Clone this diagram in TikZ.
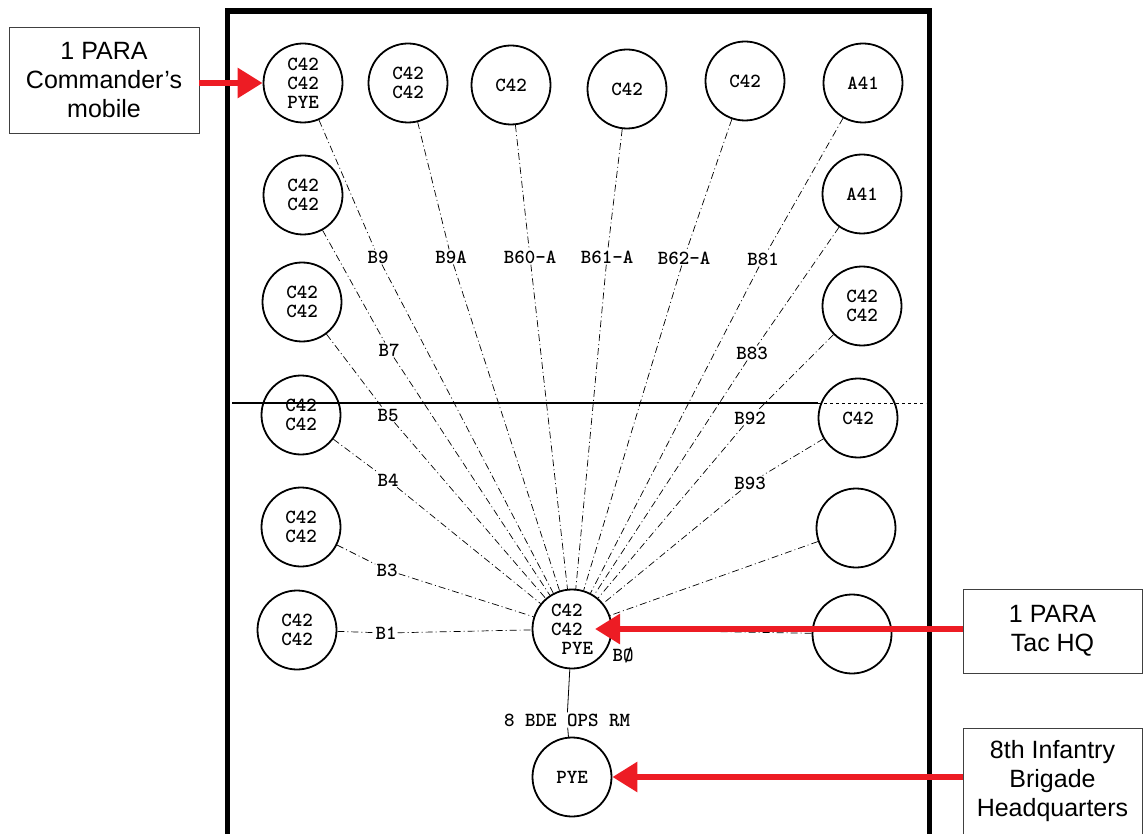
\documentclass[tikz,border=0pt]{standalone}
\usepackage{fontspec}
\setmainfont{Liberation Sans}
\usetikzlibrary{arrows.meta}
\definecolor{callred}{HTML}{ED1C24}

\begin{document}
\begin{tikzpicture}[x=1pt,y=-1pt,
  stn/.style={circle,draw,line width=1.8pt,minimum size=79pt,inner sep=0pt,align=left,
    font=\ttfamily\bfseries\fontsize{20}{19}\selectfont},
  callsign/.style={inner sep=1pt,font=\ttfamily\bfseries\fontsize{20}{19}\selectfont},
  net/.style={line width=0.7pt,dash pattern=on 7pt off 3pt on 1pt off 3pt},
  note/.style={draw=black!75,line width=0.8pt,align=center,inner sep=0pt,
    font=\fontsize{25}{29}\selectfont},
  redarrow/.style={callred,line width=6pt,-{Triangle[length=25pt,width=29pt]}}]
  \useasboundingbox (0,0) rectangle (1143,834);
  % 外框
  \draw[line width=5.5pt] (227.5,850) -- (227.5,11) -- (929.5,11) -- (929.5,850);
  % 上排电台
  \node[stn] (c11) at (303,83) {C42\\C42\\PYE};
  \node[stn] (c12) at (408,83) {C42\\C42};
  \node[stn] (c13) at (511,85) {C42};
  \node[stn] (c14) at (627,89) {C42};
  \node[stn] (c15) at (745,81) {C42};
  \node[stn] (c16) at (863,83) {A41};
  % 左列电台
  \node[stn] (c21) at (303,195) {C42\\C42};
  \node[stn] (c31) at (302,302) {C42\\C42};
  \node[stn] (c41) at (301,415) {C42\\C42};
  \node[stn] (c51) at (301,527) {C42\\C42};
  \node[stn] (c61) at (297,630) {C42\\C42};
  % 右列电台
  \node[stn] (c26) at (862,194) {A41};
  \node[stn] (c36) at (862,306) {C42\\C42};
  \node[stn] (c46) at (858,418) {C42};
  \node[stn] (c56) at (856,528) {};
  \node[stn] (c66) at (852,634) {};
  % 中心与旅部
  \node[stn] (hub) at (572,629) {C42\\C42\\\ PYE};
  \node[stn] (bde) at (572,777) {PYE};
  % 呼号
  \node[callsign] (b9)  at (378,257) {B9};
  \node[callsign] (b9a) at (451,257) {B9A};
  \node[callsign] (b60) at (530,257) {B60-A};
  \node[callsign] (b61) at (607,257) {B61-A};
  \node[callsign] (b62) at (684,258) {B62-A};
  \node[callsign] (b81) at (763,259) {B81};
  \node[callsign] (b7)  at (389,350) {B7};
  \node[callsign] (b5)  at (388,415) {B5};
  \node[callsign] (b4)  at (388,480) {B4};
  \node[callsign] (b3)  at (387,570) {B3};
  \node[callsign] (b1)  at (386,633) {B1};
  \node[callsign] (b83) at (752,353) {B83};
  \node[callsign] (b92) at (750,418) {B92};
  \node[callsign] (b93) at (750,483) {B93};
  \node[callsign] (b0)  at (623,655) {BØ};
  \node[callsign] (ops) at (567,720) {8 BDE OPS RM};
  % 无线电网
  \foreach \st/\cs in {c11/b9,c12/b9a,c13/b60,c14/b61,c15/b62,c16/b81,
                       c21/b7,c31/b5,c41/b4,c51/b3,c61/b1,c26/b83,c36/b92,c46/b93}
    \draw[net] (\st) -- (\cs) (\cs) -- (hub);
  \draw[net] (c56) -- (hub);
  \draw[net] (c66) -- (hub);
  \draw[line width=0.8pt] (hub) -- (ops) -- (bde);
  % 扫描横线
  \draw[line width=1.2pt] (232,403) -- (818,403);
  \draw[line width=0.8pt,dashed] (818,403) -- (926,403);
  % 说明框与红色箭头
  \node[note,minimum width=190pt,minimum height=106pt] (box1) at (104,80) {1 PARA\\Commander's\\mobile};
  \node[note,minimum width=179pt,minimum height=84pt] (tac) at (1052.5,631) {1 PARA\\Tac HQ};
  \node[note,minimum width=179pt,minimum height=106pt] (bdehq) at (1052.5,781) {8th Infantry\\Brigade\\Headquarters};
  \draw[redarrow] (box1.east |- c11.west) -- (c11.west);
  \draw[redarrow] (tac.west |- hub) -- ([xshift=23pt]hub.center);
  \draw[redarrow] (bdehq.west |- bde) -- (bde.east);
\end{tikzpicture}
\end{document}
